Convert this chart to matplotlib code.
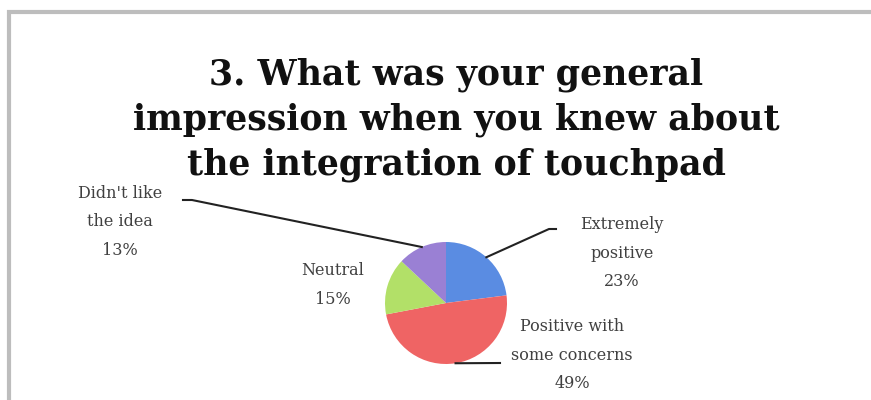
import numpy as np
import matplotlib
matplotlib.use("Agg")
import matplotlib.pyplot as plt
from matplotlib.patches import Rectangle

W, H = 871, 400

labels = ["Extremely\npositive", "Positive with\nsome concerns", "Neutral", "Didn't like\nthe idea"]
shares = [23, 49, 15, 13]
colors = ["#5a8ce2", "#ef6464", "#b2e068", "#9a80d4"]
title = "3. What was your general\nimpression when you knew about\nthe integration of touchpad"

# pixel layout (y measured from top of image)
cx, cy, rad = 446, 303, 61
label_pos = [(622, 253), (572, 355), (333, 285), (120, 222)]
# elbow points for leader lines (None = no leader)
elbows = [[(556, 229), (549, 229)], [(500, 363)], None, [(183, 200), (192, 200)]]

fig = plt.figure(figsize=(W / 100, H / 100), dpi=100)
ax = fig.add_axes([0, 0, 1, 1])

def py(y):
    return H - y

# frame of the chart area
ax.add_patch(Rectangle((9, py(12) - 600), 900, 600, fill=False,
                       edgecolor="#bdbdbd", lw=3))

wedges, _ = ax.pie(shares, colors=colors, startangle=90, counterclock=False,
                   center=(cx, py(cy)), radius=rad, frame=True,
                   wedgeprops=dict(linewidth=0))
ax.set_xlim(0, W)
ax.set_ylim(0, H)
ax.set_aspect("equal")
ax.axis("off")

ax.text(456, py(120), title, ha="center", va="center", fontsize=25,
        fontweight="bold", family="DejaVu Serif", linespacing=1.38, color="#111111")

for w, lab, pct, pos, elb in zip(wedges, labels, shares, label_pos, elbows):
    ang = np.deg2rad((w.theta1 + w.theta2) / 2)
    px_ = cx + rad * np.cos(ang)
    py_ = py(cy) + rad * np.sin(ang)
    ax.text(pos[0], py(pos[1]), f"{lab}\n{pct}%", ha="center", va="center",
            fontsize=11.5, family="DejaVu Serif", color="#404040", linespacing=1.85)
    if elb:
        xs = [p[0] for p in elb] + [px_]
        ys = [py(p[1]) for p in elb] + [py_]
        ax.plot(xs, ys, color="#222222", lw=1.5)

fig.savefig("out.png", dpi=100)
